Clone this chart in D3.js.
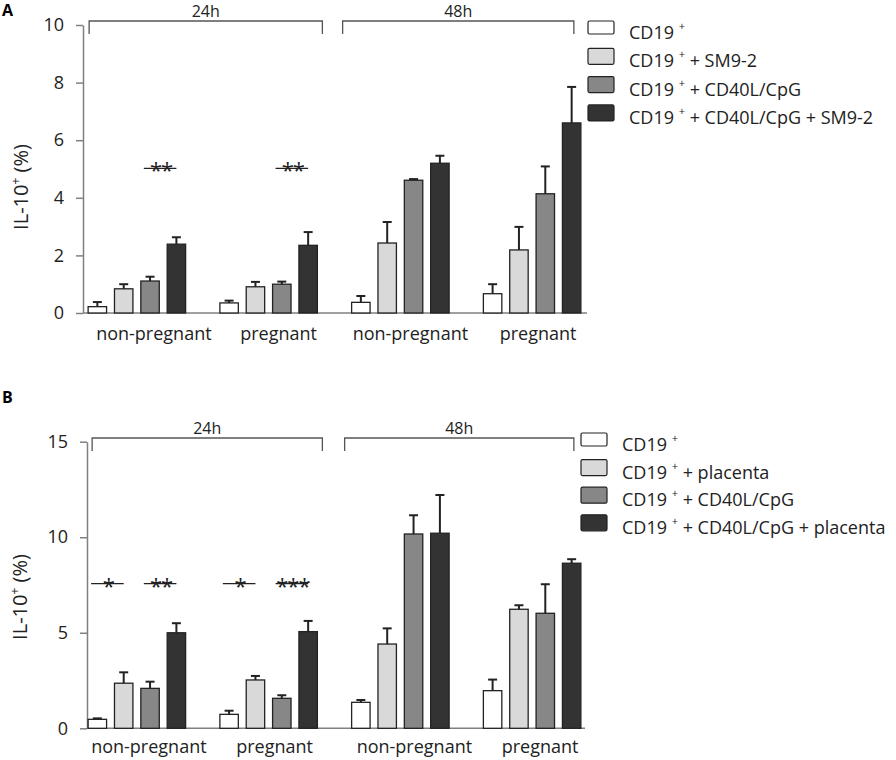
<!DOCTYPE html>
<html>
<head>
<meta charset="utf-8">
<script src="https://cdn.jsdelivr.net/npm/d3@7"></script>
<style>
  body { margin: 0; background: #fff; }
  svg { font-family: "Open Sans", sans-serif; }
</style>
</head>
<body>
<svg id="chart" width="896" height="760"></svg>
<script>
// groups along the x axis (two time points, two donor types)
const groupIds = ["24h-np", "24h-p", "48h-np", "48h-p"];
const groupLabels = ["non-pregnant", "pregnant", "non-pregnant", "pregnant"];
const periods = ["24h", "48h"];

// panel A : SM9-2
const seriesA = ["", " + SM9-2", " + CD40L/CpG", " + CD40L/CpG + SM9-2"];
const meansA = [
  [0.22, 0.84, 1.11, 2.39],
  [0.35, 0.91, 1.00, 2.35],
  [0.37, 2.43, 4.61, 5.20],
  [0.67, 2.19, 4.14, 6.60]
];
const errorsA = [
  [0.16, 0.16, 0.15, 0.24],
  [0.08, 0.17, 0.09, 0.46],
  [0.22, 0.73, 0.04, 0.26],
  [0.33, 0.80, 0.95, 1.25]
];
const ticksA = [0, 2, 4, 6, 8, 10];
const sigA = [
  { group: 0, from: 2, to: 3, y: 5.02, label: "**" },
  { group: 1, from: 2, to: 3, y: 5.02, label: "**" }
];

// panel B : placenta
const seriesB = ["", " + placenta", " + CD40L/CpG", " + CD40L/CpG + placenta"];
const meansB = [
  [0.47, 2.36, 2.09, 5.00],
  [0.73, 2.53, 1.57, 5.06],
  [1.36, 4.41, 10.17, 10.21],
  [1.97, 6.23, 6.02, 8.64]
];
const errorsB = [
  [0.05, 0.57, 0.35, 0.50],
  [0.19, 0.21, 0.16, 0.56],
  [0.12, 0.82, 0.98, 2.00],
  [0.58, 0.21, 1.52, 0.21]
];
const ticksB = [0, 5, 10, 15];
const sigB = [
  { group: 0, from: 0, to: 1, y: 7.57, label: "*" },
  { group: 0, from: 2, to: 3, y: 7.57, label: "**" },
  { group: 1, from: 0, to: 1, y: 7.57, label: "*" },
  { group: 1, from: 2, to: 3, y: 7.57, label: "***" }
];

const fills = ["#ffffff", "#d9d9d9", "#878787", "#333333"];
const ink = "#222";
const axisGrey = "#808080";

const svg = d3.select("#chart");

function drawPanel(p) {
  const g = svg.append("g");

  const x0 = d3.scaleBand().domain(groupIds).range([71, 598])
    .paddingInner(0.26).paddingOuter(0.13);
  const x1 = d3.scaleBand().domain(d3.range(4)).range([0, x0.bandwidth()])
    .paddingInner(0.3).paddingOuter(0);
  const y = d3.scaleLinear().domain([0, p.max]).range([p.bottom, p.top]);

  // panel letter
  g.append("text").attr("x", 2).attr("y", p.letterY)
    .attr("font-weight", "bold").attr("font-size", 16).attr("fill", "#000")
    .text(p.letter);

  // y axis
  const yAxis = g.append("g")
    .attr("transform", `translate(${p.axisX},0)`)
    .call(d3.axisLeft(y).tickValues(p.ticks).tickSize(7).tickPadding(12).tickSizeOuter(0));
  yAxis.select(".domain").attr("stroke", axisGrey).attr("stroke-width", 1.5);
  yAxis.selectAll(".tick line").attr("stroke", axisGrey).attr("stroke-width", 1.5);
  yAxis.selectAll(".tick text").attr("font-size", 18).attr("fill", ink)
    .attr("font-family", "Open Sans, sans-serif");

  // x axis baseline
  g.append("line")
    .attr("x1", p.axisX).attr("x2", p.axisEnd)
    .attr("y1", y(0)).attr("y2", y(0))
    .attr("stroke", axisGrey).attr("stroke-width", 1.5);

  // y label
  const yl = g.append("text")
    .attr("transform", `translate(${p.ylabelX},${p.ylabelY}) rotate(-90)`)
    .attr("text-anchor", "middle").attr("font-size", 20).attr("fill", ink);
  yl.append("tspan").text("IL-10");
  yl.append("tspan").attr("font-size", 12).attr("dy", -8).attr("fill", ink).text("+");
  yl.append("tspan").attr("dy", 8).text(" (%)");

  // bars
  const grp = g.selectAll(".grp").data(p.means).join("g")
    .attr("transform", (d, i) => `translate(${x0(groupIds[i])},0)`);

  grp.selectAll("rect").data(d => d).join("rect")
    .attr("x", (d, j) => x1(j))
    .attr("y", d => y(d))
    .attr("width", x1.bandwidth())
    .attr("height", d => y(0) - y(d))
    .attr("fill", (d, j) => fills[j])
    .attr("stroke", ink).attr("stroke-width", 1.3);

  // error bars (upper only)
  grp.each(function(d, i) {
    const eg = d3.select(this);
    d.forEach((m, j) => {
      const cx = x1(j) + x1.bandwidth() / 2;
      const top = y(m + p.errors[i][j]);
      eg.append("line").attr("x1", cx).attr("x2", cx)
        .attr("y1", y(m)).attr("y2", top)
        .attr("stroke", ink).attr("stroke-width", 2);
      eg.append("line").attr("x1", cx - 4.5).attr("x2", cx + 4.5)
        .attr("y1", top).attr("y2", top)
        .attr("stroke", ink).attr("stroke-width", 2);
    });
  });

  // group labels
  g.selectAll(".glab").data(groupLabels).join("text")
    .attr("x", (d, i) => x0(groupIds[i]) + x0.bandwidth() / 2 + p.labelShift[i])
    .attr("y", p.labelY)
    .attr("text-anchor", "middle").attr("font-size", 18).attr("fill", ink)
    .text(d => d);

  // significance
  p.sig.forEach(s => {
    const gx = x0(groupIds[s.group]);
    const xa = gx + x1(s.from) + 3;
    const xb = gx + x1(s.to) + x1.bandwidth() / 2;
    g.append("line").attr("x1", xa).attr("x2", xb)
      .attr("y1", y(s.y)).attr("y2", y(s.y))
      .attr("stroke", ink).attr("stroke-width", 1.2);
    g.append("text").attr("x", (xa + xb) / 2 + 1).attr("y", y(s.y) + 10)
      .attr("text-anchor", "middle").attr("font-size", 22).attr("fill", ink)
      .attr("letter-spacing", -1)
      .text(s.label);
  });

  // time brackets
  const spans = [
    [x0(groupIds[0]) + p.b24[0], x0(groupIds[1]) + x0.bandwidth() + p.b24[1]],
    [x0(groupIds[2]) + p.b48[0], x0(groupIds[3]) + x0.bandwidth() + p.b48[1]]
  ];
  spans.forEach((s, i) => {
    g.append("path")
      .attr("d", `M${s[0]},${p.bracketY + 13}V${p.bracketY}H${s[1]}V${p.bracketY + 13}`)
      .attr("fill", "none").attr("stroke", "#555").attr("stroke-width", 1.3);
    g.append("text").attr("x", (s[0] + s[1]) / 2).attr("y", p.bracketY - 4)
      .attr("text-anchor", "middle").attr("font-size", 16).attr("fill", ink)
      .text(periods[i]);
  });

  // legend
  const lg = g.selectAll(".leg").data(p.series).join("g")
    .attr("transform", (d, i) => `translate(${p.legendX},${p.legendY + i * p.legendStep})`);
  lg.append("rect")
    .attr("x", 0).attr("y", (d, i) => i === 0 ? 1 : 0)
    .attr("width", 26).attr("height", (d, i) => i === 0 ? 13 : 16)
    .attr("rx", 1.5)
    .attr("fill", (d, i) => fills[i])
    .attr("stroke", ink).attr("stroke-width", 1.2);
  const lt = lg.append("text").attr("x", 41).attr("y", 19)
    .attr("font-size", 18).attr("fill", ink);
  lt.append("tspan").text("CD19 ");
  lt.append("tspan").attr("font-size", 11).attr("dy", -9).attr("fill", ink).text("+");
  lt.append("tspan").attr("dy", 9).text(d => d);
}

drawPanel({
  letter: "A", letterY: 16,
  means: meansA, errors: errorsA, ticks: ticksA, sig: sigA, series: seriesA,
  max: 10, top: 25, bottom: 313, axisX: 83, axisEnd: 587,
  ylabelX: 28, ylabelY: 187, labelY: 340, labelShift: [17, 10, 10, 6],
  bracketY: 21, b24: [1, 5], b48: [-9, -7],
  legendX: 588, legendY: 20, legendStep: 28.3
});

drawPanel({
  letter: "B", letterY: 403,
  means: meansB, errors: errorsB, ticks: ticksB, sig: sigB, series: seriesB,
  max: 15, top: 441.7, bottom: 728.3, axisX: 87, axisEnd: 585,
  ylabelX: 27, ylabelY: 597, labelY: 753, labelShift: [12, 6, 14, 8],
  bracketY: 438, b24: [4, 5], b48: [-7, -7],
  legendX: 581, legendY: 432, legendStep: 27.6
});
</script>
</body>
</html>
